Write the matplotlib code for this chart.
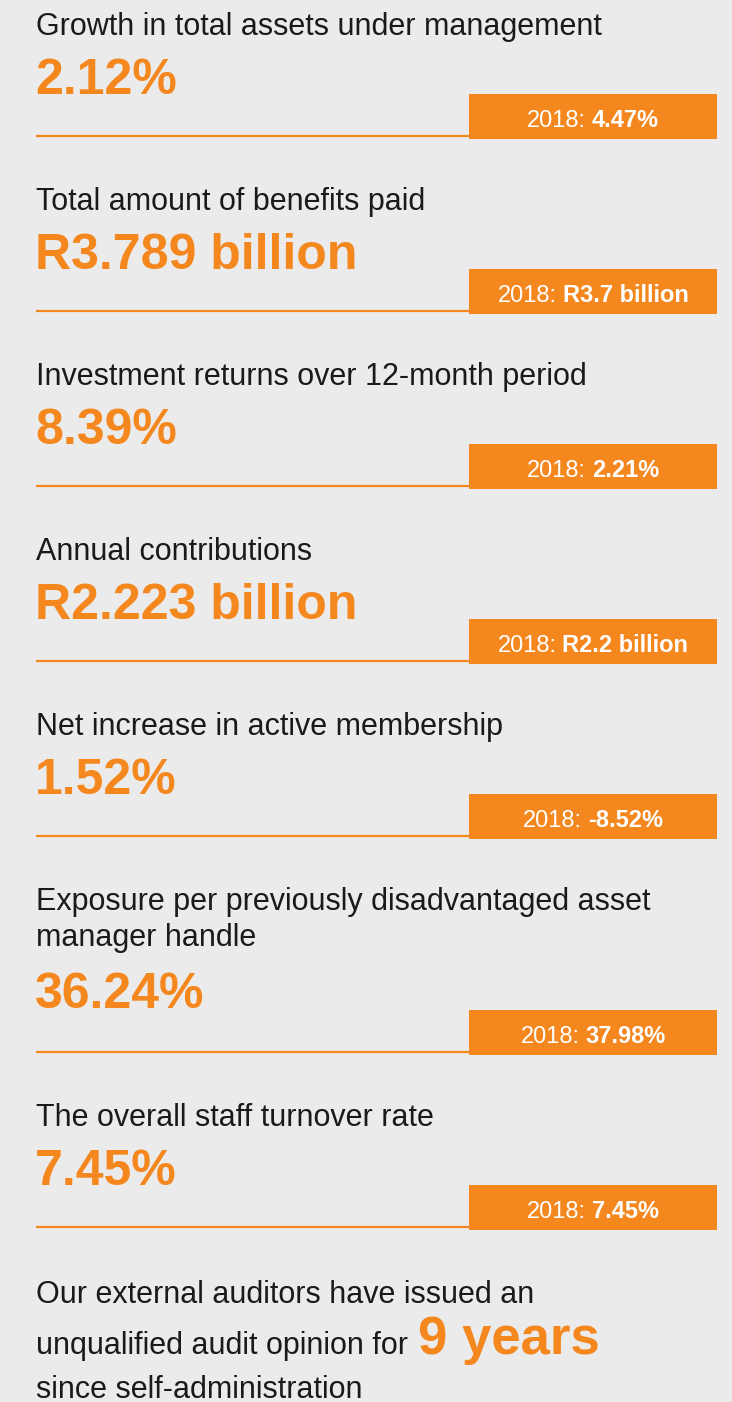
import matplotlib
matplotlib.use("Agg")
import matplotlib.pyplot as plt
from matplotlib.patches import Rectangle

# data
titles = [
    "Growth in total assets under management",
    "Total amount of benefits paid",
    "Investment returns over 12-month period",
    "Annual contributions",
    "Net increase in active membership",
    "Exposure per previously disadvantaged asset\nmanager handle",
    "The overall staff turnover rate",
]
values = ["2.12%", "R3.789 billion", "8.39%", "R2.223 billion", "1.52%", "36.24%", "7.45%"]
prev_values = ["4.47%", "R3.7 billion", "2.21%", "R2.2 billion", "-8.52%", "37.98%", "7.45%"]
prev_year = "2018"
audit_lines = ["Our external auditors have issued an", "unqualified audit opinion for", "since self-administration"]
audit_years = "9 years"

orange = "#F5871F"
bg = "#EBEBEB"
dark = "#1A1A1A"
font = "Liberation Sans"

W, H = 732, 1402
fig = plt.figure(figsize=(W / 100, H / 100), dpi=100, facecolor=bg)
ax = fig.add_axes([0, 0, 1, 1])
ax.set_xlim(0, W)
ax.set_ylim(H, 0)
ax.axis("off")
renderer = fig.canvas.get_renderer()


def runs(x, y, parts, center=False, gap=0):
    # parts: list of (text, kwargs); drawn side by side on one baseline
    items = [ax.text(0, y, s, va="baseline", ha="left", family=font, **kw) for s, kw in parts]
    ws = [t.get_window_extent(renderer).width for t in items]
    total = sum(ws) + gap * (len(items) - 1)
    cx = x - total / 2 if center else x
    for t, w in zip(items, ws):
        t.set_x(cx)
        cx += w + gap


left = 36
box_x0, box_x1 = 469, 717
y = 35
for title, val, prev in zip(titles, values, prev_values):
    lines = title.split("\n")
    extra = len(lines) - 1
    for i, ln in enumerate(lines):
        ax.text(left, y + i * 36, ln, family=font, fontsize=22, color=dark, va="baseline")
    last = y + extra * 36
    num_y = last + 59 + 3 * extra
    line_y = last + 101 + 5 * extra
    ax.text(left - 1, num_y, val, family=font, fontsize=36, fontweight="bold",
            color=orange, va="baseline")
    box_top = line_y - 42.5
    ax.plot([left, box_x1], [line_y, line_y], color=orange, lw=1.6, solid_capstyle="butt")
    ax.add_patch(Rectangle((box_x0, box_top), box_x1 - box_x0, 45, facecolor=orange, edgecolor="none"))
    runs((box_x0 + box_x1) / 2, box_top + 33.5,
         [(prev_year + ":", dict(fontsize=17, color="white")),
          (prev, dict(fontsize=17, color="white", fontweight="bold"))],
         center=True, gap=6)
    y = line_y + 74

y += 2
ax.text(left, y, audit_lines[0], family=font, fontsize=22, color=dark, va="baseline")
runs(left, y + 51, [(audit_lines[1], dict(fontsize=22, color=dark)),
                    (audit_years, dict(fontsize=38, color=orange, fontweight="bold"))], gap=10)
ax.text(left, y + 95, audit_lines[2], family=font, fontsize=22, color=dark, va="baseline")

fig.savefig("out.png", dpi=100, facecolor=bg)
